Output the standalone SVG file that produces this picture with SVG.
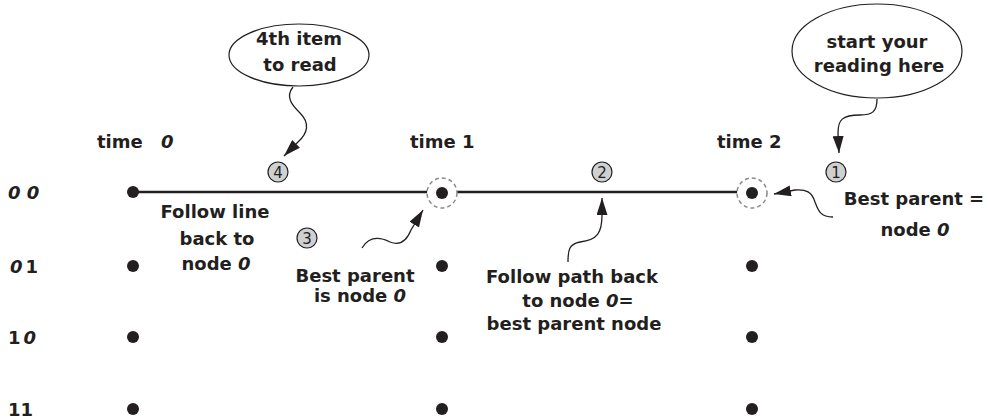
<svg xmlns="http://www.w3.org/2000/svg" width="990" height="419" viewBox="0 0 990 419">
<style>
  text { font-family: "DejaVu Sans", "Liberation Sans", sans-serif; font-weight: bold; font-size: 18px; fill: #231f20; }
  .mid { text-anchor: middle; }
  .z { font-style: italic; }
  .dot { fill: #231f20; }
  .ring { fill: #ffffff; stroke: #8a8a8a; stroke-width: 1.5; stroke-dasharray: 4 3; }
  .trellis { stroke: #231f20; stroke-width: 2.5; fill: none; }
  .conn { stroke: #231f20; stroke-width: 1.3; fill: none; marker-end: url(#ah); }
  .bubble { fill: #ffffff; stroke: #231f20; stroke-width: 1.2; }
  .num circle { fill: #cfd0d2; stroke: #231f20; stroke-width: 1.2; }
  .num text { font-size: 15px; font-weight: normal; text-anchor: middle; }
</style>
<defs>
  <marker id="ah" viewBox="0 0 17 11" refX="17" refY="5.5" markerWidth="17" markerHeight="11" markerUnits="userSpaceOnUse" orient="auto">
    <path d="M0,0 L17,5.5 L0,11 z" fill="#231f20"/>
  </marker>
</defs>

<g id="row-labels">
  <text x="8" y="199"><tspan class="z">0</tspan> <tspan class="z">0</tspan></text>
  <text x="10" y="273"><tspan class="z">0</tspan><tspan dx="3">1</tspan></text>
  <text x="8" y="344">1<tspan class="z" dx="3">0</tspan></text>
  <text x="8" y="416">11</text>
</g>

<g id="time-labels">
  <text x="97" y="148">time</text>
  <text x="161" y="148" class="z">0</text>
  <text x="410" y="148">time 1</text>
  <text x="717" y="148">time 2</text>
</g>

<g id="connectors">
  <line class="trellis" x1="133" y1="192" x2="428" y2="192"/>
  <line class="trellis" x1="457" y1="192" x2="738" y2="192"/>
  <path class="conn" d="M293,87 C285,97 292,105 300,113 C310,123 308,133 298,142 L284,156"/>
  <path class="conn" d="M362,248 C368,238 378,236 390,242 C400,246 407,240 411,230 L423,210"/>
  <path class="conn" d="M568,262 C568,250 569,244 580,242 C598,240 602,232 602,215 L602,198"/>
  <path class="conn" d="M833,217 C820,217 818,210 815,202 C812,192 806,189 795,190 L774,194"/>
  <path class="conn" d="M877,99 C877,112 872,115 860,115 C842,115 838,120 838,133 L839,153"/>
</g>

<g id="node-t0-00"><circle class="dot" cx="133" cy="192" r="6"/></g>
<g id="node-t0-01"><circle class="dot" cx="133" cy="266" r="6"/></g>
<g id="node-t0-10"><circle class="dot" cx="133" cy="337" r="6"/></g>
<g id="node-t0-11"><circle class="dot" cx="133" cy="409" r="6"/></g>

<g id="node-t1-00"><circle class="ring" cx="442" cy="193" r="15"/><circle class="dot" cx="442" cy="193" r="6"/></g>
<g id="node-t1-01"><circle class="dot" cx="442" cy="266" r="6"/></g>
<g id="node-t1-10"><circle class="dot" cx="442" cy="337" r="6"/></g>
<g id="node-t1-11"><circle class="dot" cx="442" cy="409" r="6"/></g>

<g id="node-t2-00"><circle class="ring" cx="752" cy="193" r="15"/><circle class="dot" cx="752" cy="193" r="6"/></g>
<g id="node-t2-01"><circle class="dot" cx="752" cy="266" r="6"/></g>
<g id="node-t2-10"><circle class="dot" cx="752" cy="337" r="6"/></g>
<g id="node-t2-11"><circle class="dot" cx="752" cy="409" r="6"/></g>

<g id="bubble-4th">
  <ellipse class="bubble" cx="299" cy="55" rx="70" ry="31"/>
  <text class="mid" x="299" y="45">4th item</text>
  <text class="mid" x="300" y="71">to read</text>
</g>

<g id="bubble-start">
  <ellipse class="bubble" cx="877" cy="51" rx="85" ry="47"/>
  <text class="mid" x="877" y="48">start your</text>
  <text class="mid" x="879" y="72">reading here</text>
</g>

<g id="step-1" class="num"><circle cx="836" cy="172" r="10"/><text x="836" y="177.5">1</text></g>
<g id="step-2" class="num"><circle cx="602" cy="172" r="10"/><text x="602" y="177.5">2</text></g>
<g id="step-3" class="num"><circle cx="307" cy="238" r="10"/><text x="307" y="243.5">3</text></g>
<g id="step-4" class="num"><circle cx="278" cy="172" r="10"/><text x="278" y="177.5">4</text></g>

<g id="note-follow-line">
  <text class="mid" x="215" y="218">Follow line</text>
  <text class="mid" x="217" y="245">back to</text>
  <text class="mid" x="216" y="270">node <tspan class="z">0</tspan></text>
</g>

<g id="note-best-parent-1">
  <text class="mid" x="355" y="282">Best parent</text>
  <text class="mid" x="360" y="302">is node <tspan class="z">0</tspan></text>
</g>

<g id="note-follow-path">
  <text class="mid" x="572" y="283">Follow path back</text>
  <text class="mid" x="578" y="307">to node <tspan class="z">0</tspan>=</text>
  <text class="mid" x="574" y="330">best parent node</text>
</g>

<g id="note-best-parent-2">
  <text class="mid" x="914" y="205">Best parent =</text>
  <text class="mid" x="915" y="236">node <tspan class="z">0</tspan></text>
</g>
</svg>
